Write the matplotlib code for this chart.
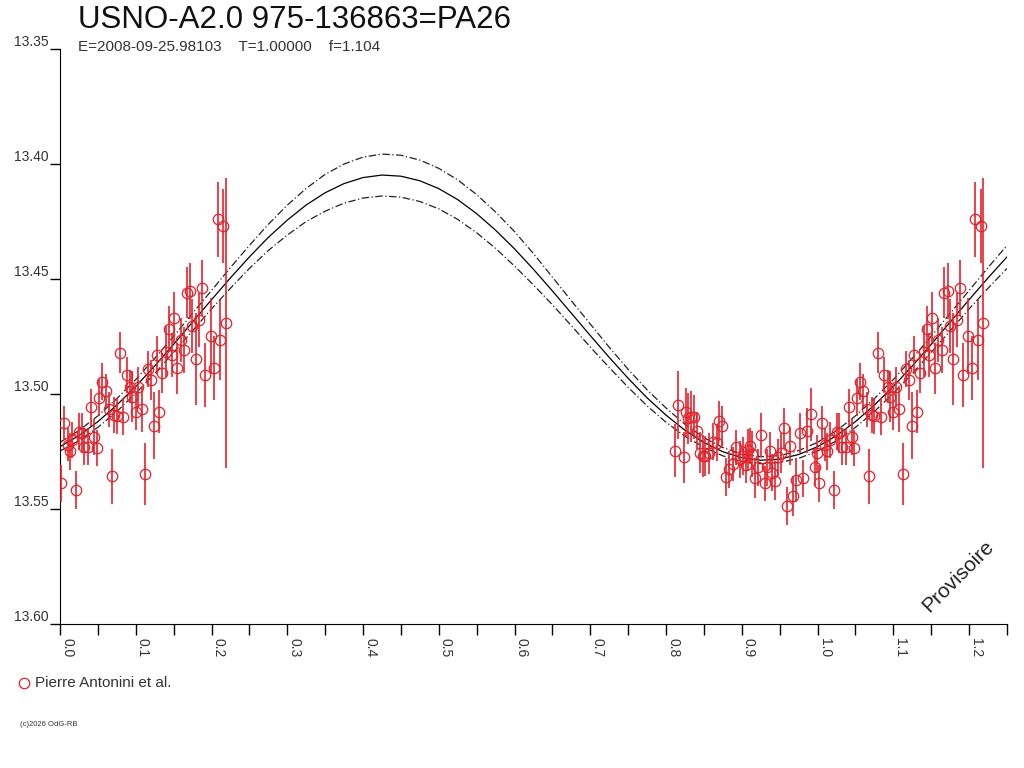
import matplotlib
matplotlib.use("Agg")
import matplotlib.pyplot as plt
import numpy as np

plt.rcParams['font.family'] = ['Liberation Sans', 'DejaVu Sans']

# observations: phase, magnitude, error (Pierre Antonini et al.)
phase = [0.0013, 0.0053, 0.010, 0.013, 0.016, 0.021, 0.025, 0.0287, 0.032, 0.0374,
         0.041, 0.0453, 0.0485, 0.052, 0.056, 0.0604, 0.0647, 0.0683, 0.0717, 0.0749,
         0.0797, 0.0837, 0.088, 0.0925, 0.0956, 0.100, 0.1035, 0.108, 0.1123, 0.1167,
         0.1202, 0.1242, 0.1277, 0.1312, 0.1352, 0.140, 0.144, 0.1475, 0.151, 0.155,
         0.1594, 0.1638, 0.1673, 0.1717, 0.1748, 0.1793, 0.1836, 0.188, 0.1915, 0.199,
         0.2034, 0.2083, 0.2114, 0.2157, 0.2189,
         0.8124, 0.816, 0.8234, 0.8265, 0.829, 0.8331, 0.8366, 0.8402, 0.8446, 0.8485,
         0.852, 0.8564, 0.8617, 0.8666, 0.8696, 0.874, 0.8785, 0.8828, 0.8886, 0.8917,
         0.8974, 0.9018, 0.9049, 0.908, 0.9106, 0.9137, 0.9172, 0.9212, 0.9256, 0.930,
         0.9335, 0.9366, 0.9401, 0.9436, 0.9476, 0.952, 0.9555, 0.960, 0.9635, 0.9679,
         0.9719, 0.9762, 0.9806, 0.9864, 0.9908, 0.9964, 0.9987]
mag = [13.5388, 13.5127, 13.522, 13.525, 13.520, 13.5417, 13.5164, 13.517, 13.523, 13.523,
       13.5057, 13.5187, 13.5235, 13.5016, 13.4947, 13.4987, 13.5067, 13.5357, 13.5091, 13.5096,
       13.482, 13.5099, 13.4917, 13.4968, 13.5012, 13.5077, 13.4968, 13.5067, 13.5348, 13.4891,
       13.4939, 13.5138, 13.483, 13.5077, 13.4907, 13.4816, 13.4719, 13.483, 13.4668, 13.4888,
       13.4765, 13.4809, 13.456, 13.4552, 13.4704, 13.4849, 13.4678, 13.454, 13.4917, 13.4748,
       13.4888, 13.424, 13.4765, 13.427, 13.469,
       13.5246, 13.5048, 13.5275, 13.5077, 13.5106, 13.5099, 13.5099, 13.516, 13.5255, 13.527,
       13.527, 13.5258, 13.5207, 13.5211, 13.5116, 13.5139, 13.536, 13.5327, 13.5304, 13.5232,
       13.5284, 13.527, 13.5309, 13.5243, 13.5226, 13.5261, 13.5366, 13.5319, 13.5178, 13.5388,
       13.5319, 13.5246, 13.5342, 13.5377, 13.5275, 13.5255, 13.5149, 13.5487, 13.5226, 13.5443,
       13.5374, 13.5168, 13.5366, 13.516, 13.5088, 13.5319, 13.5258]
err = [0.008, 0.0073, 0.0073, 0.008, 0.008, 0.0083, 0.008, 0.0087, 0.008, 0.008,
       0.008, 0.008, 0.008, 0.008, 0.008, 0.0075, 0.0075, 0.012, 0.008, 0.008,
       0.009, 0.008, 0.008, 0.0073, 0.011, 0.008, 0.0087, 0.010, 0.0134, 0.008,
       0.0087, 0.0145, 0.0083, 0.0094, 0.0087, 0.011, 0.010, 0.0094, 0.011, 0.011,
       0.0094, 0.010, 0.011, 0.0123, 0.0116, 0.020, 0.0116, 0.0123, 0.0138, 0.0167,
       0.0138, 0.0163, 0.0174, 0.016, 0.063,
       0.0116, 0.0148, 0.011, 0.0105, 0.011, 0.011, 0.0095, 0.008, 0.009, 0.009,
       0.0087, 0.009, 0.008, 0.008, 0.0087, 0.0087, 0.0083, 0.008, 0.0073, 0.0076,
       0.008, 0.0083, 0.008, 0.009, 0.008, 0.010, 0.0087, 0.008, 0.0094, 0.0076,
       0.008, 0.008, 0.008, 0.0083, 0.008, 0.0087, 0.009, 0.0083, 0.0083, 0.0087,
       0.0094, 0.0087, 0.008, 0.0098, 0.0116, 0.008, 0.008]

# fitted light curve, phase step 0.025 over one period
curve_phase = [i * 0.025 for i in range(41)]
curve_mag = [13.5229, 13.5181, 13.5120, 13.5048, 13.4967, 13.4878, 13.4784, 13.4687, 13.4590, 13.4495,
             13.4404, 13.4319, 13.4244, 13.4178, 13.4125, 13.4085, 13.4059, 13.4048, 13.4053, 13.4073,
             13.4107, 13.4155, 13.4216, 13.4288, 13.4369, 13.4458, 13.4552, 13.4649, 13.4746, 13.4841,
             13.4932, 13.5017, 13.5092, 13.5158, 13.5211, 13.5251, 13.5277, 13.5288, 13.5283, 13.5263,
             13.5229]
# half width of the dashed envelope
band = [0.0019, 0.0022, 0.0025, 0.0028, 0.0030, 0.0033, 0.0035, 0.0038, 0.0040, 0.0045,
        0.0050, 0.0057, 0.0065, 0.0072, 0.0080, 0.0085, 0.0089, 0.0091, 0.0091, 0.0090,
        0.0088, 0.0086, 0.0083, 0.0079, 0.0075, 0.0068, 0.0060, 0.0054, 0.0050, 0.0044,
        0.0039, 0.0035, 0.0031, 0.0026, 0.0021, 0.0018, 0.0016, 0.0015, 0.0015, 0.0017,
        0.0019]

title = "USNO-A2.0 975-136863=PA26"
subtitle = "E=2008-09-25.98103    T=1.00000    f=1.104"
observer = "Pierre Antonini et al."

fig = plt.figure(figsize=(10.24, 7.68), dpi=100)
ax = fig.add_axes([60 / 1024, 1 - 624 / 768, 947 / 1024, 575 / 768])

red = '#e8202a'
ph = np.array(phase)
mg = np.array(mag)
er = np.array(err)
# data shown over 0..1 and repeated up to 1.25
for shift in (0.0, 1.0):
    sel = (ph + shift) <= 1.25
    ax.errorbar(ph[sel] + shift, mg[sel], yerr=er[sel], fmt='o', ms=7.5, mfc='none',
                mec=red, mew=0.9, ecolor=red, elinewidth=1.2, capsize=0, zorder=3)

cp = np.array(curve_phase)
cm = np.array(curve_mag)
bd = np.array(band)
for shift in (0.0, 1.0):
    sel = (cp + shift) <= 1.2501
    ax.plot(cp[sel] + shift, cm[sel], color='black', lw=0.9, zorder=2)
    ax.plot(cp[sel] + shift, cm[sel] - bd[sel], color='#222222', lw=0.9, ls=(0, (6, 2, 1, 2)), zorder=2)
    ax.plot(cp[sel] + shift, cm[sel] + bd[sel], color='#222222', lw=0.9, ls=(0, (6, 2, 1, 2)), zorder=2)

ax.set_xlim(0, 1.25)
ax.set_ylim(13.60, 13.35)
ax.spines['top'].set_visible(False)
ax.spines['right'].set_visible(False)
ax.set_xticks(np.arange(0, 1.21, 0.1))
ax.set_xticks(np.arange(0.05, 1.26, 0.1), minor=True)
ax.set_xticklabels(['%.1f' % v for v in np.arange(0, 1.21, 0.1)], rotation=-90, ha='left',
                   fontsize=10, color='#333333')
ax.tick_params(axis='x', which='both', length=8, width=1, direction='out', pad=2)
ax.set_yticks(np.arange(13.35, 13.601, 0.05))
ax.set_yticklabels(['%.2f' % v for v in np.arange(13.35, 13.601, 0.05)], fontsize=10,
                   color='#333333', va='bottom')
ax.tick_params(axis='y', length=7, width=1, direction='out', pad=1)

fig.text(78 / 1024, 1 - 20 / 768, title, fontsize=22.5, va='center', ha='left', color='#111111')
fig.text(78 / 1024, 1 - 47 / 768, subtitle, fontsize=11, va='center', ha='left', color='#333333')

fig.lines.append(plt.Line2D([24 / 1024], [1 - 683 / 768], marker='o', ms=7.5, mfc='none',
                            mec=red, mew=0.9, transform=fig.transFigure))
fig.text(35 / 1024, 1 - 683 / 768, observer, fontsize=11, va='center', ha='left', color='#333333')
fig.text(20 / 1024, 1 - 725 / 768, "(c)2026 OdG-RB", fontsize=5.5, va='center', ha='left', color='#333333')

ax.text(0.948, 0.083, "Provisoire", transform=ax.transAxes, rotation=45, fontsize=15,
        ha='center', va='center', color='#222222')

fig.savefig('out.png', dpi=100)
